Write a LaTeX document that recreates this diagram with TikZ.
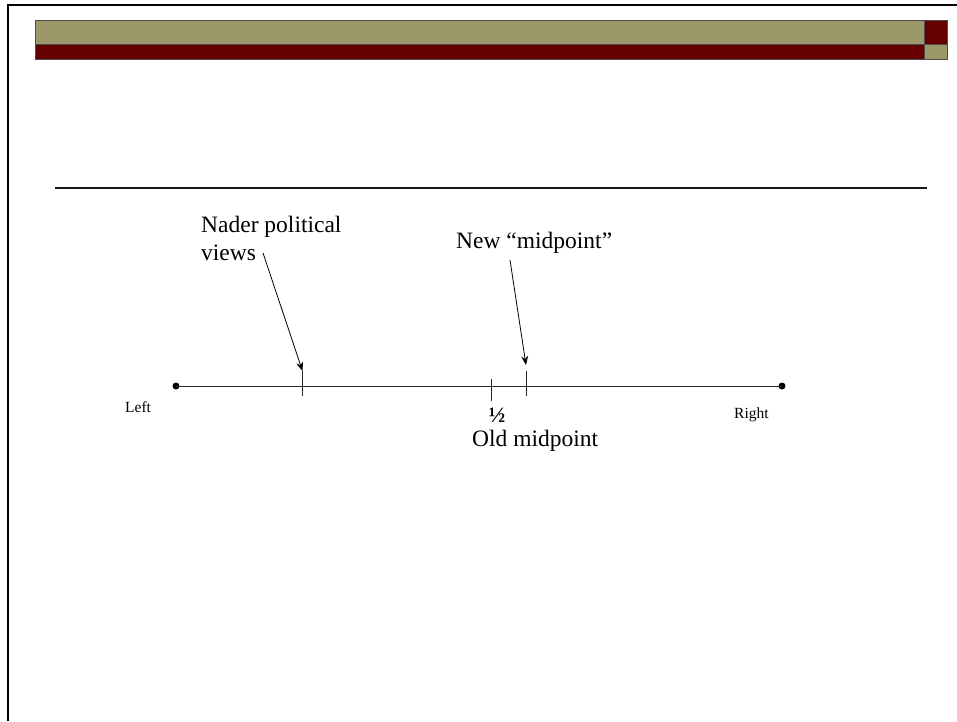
\documentclass[tikz,border=0pt]{standalone}
\usepackage{fontspec}
\setmainfont{Liberation Serif}
\usetikzlibrary{arrows.meta}
\definecolor{olivebar}{RGB}{155,153,106}
\definecolor{redbar}{RGB}{102,0,0}
\begin{document}
\begin{tikzpicture}[x=1pt,y=-1pt,
  bar/.style={draw=black!70,line width=0.8pt},
  frame/.style={line width=2pt,black},
  axis/.style={line width=0.9pt,black!85},
  tickmark/.style={line width=0.9pt,black!85},
  pointer/.style={line width=0.8pt,-{Stealth[length=9pt,width=7pt]}},
  enddot/.style={circle,fill=black,inner sep=0pt,minimum size=7pt},
  bigtxt/.style={inner sep=0pt,font=\fontsize{23.5}{28}\selectfont},
  halftxt/.style={inner sep=0pt,font=\fontsize{22}{26}\selectfont\bfseries},
  smalltxt/.style={inner sep=0pt,font=\fontsize{15.5}{18}\selectfont}]
\useasboundingbox (0,0) rectangle (957,721);
\fill[white] (0,0) rectangle (957,721);
% frame
\draw[frame] (8,721) -- (8,5) -- (957,5);
% header bars
\filldraw[bar,fill=olivebar] (35,20) rectangle (924,44);
\filldraw[bar,fill=redbar] (35,44) rectangle (924,59);
\filldraw[bar,fill=redbar] (924,20) rectangle (947,44);
\filldraw[bar,fill=olivebar] (924,44) rectangle (947,59);
% rule
\draw[line width=1.6pt,black!90] (55,188) -- (927,188);
% number line
\node[enddot] (L) at (176,386) {};
\node[enddot] (R) at (782,386) {};
\draw[axis] (L.center) -- (R.center);
\coordinate (naderTop) at (302.5,371);
\coordinate (naderBot) at (302.5,396);
\coordinate (halfTop) at (491,379);
\coordinate (halfBot) at (491,401);
\coordinate (newTop) at (526.5,371);
\coordinate (newBot) at (526.5,396);
\draw[tickmark] (naderTop) -- (naderBot);
\draw[tickmark] (halfTop) -- (halfBot);
\draw[tickmark] (newTop) -- (newBot);
% labels
\node[smalltxt,anchor=base west] (lefttxt) at (125,412) {Left};
\node[smalltxt,anchor=base west] (righttxt) at (734,418) {Right};
\node[halftxt,anchor=base] (half) at (497,422) {½};
\node[bigtxt,anchor=base west] (old) at (472,446) {Old midpoint};
\node[bigtxt,anchor=base west] (nader1) at (201,232) {Nader political};
\node[bigtxt,anchor=base west] (nader2) at (201,260) {views};
\node[bigtxt,anchor=base west] (newmid) at (456,248) {New “midpoint”};
% pointers
\coordinate (naderStart) at (263,253);
\coordinate (newStart) at (510,260);
\coordinate (newEnd) at (526,365);
\draw[pointer] (naderStart) -- (naderTop);
\draw[pointer] (newStart) -- (newEnd);
\end{tikzpicture}
\end{document}
